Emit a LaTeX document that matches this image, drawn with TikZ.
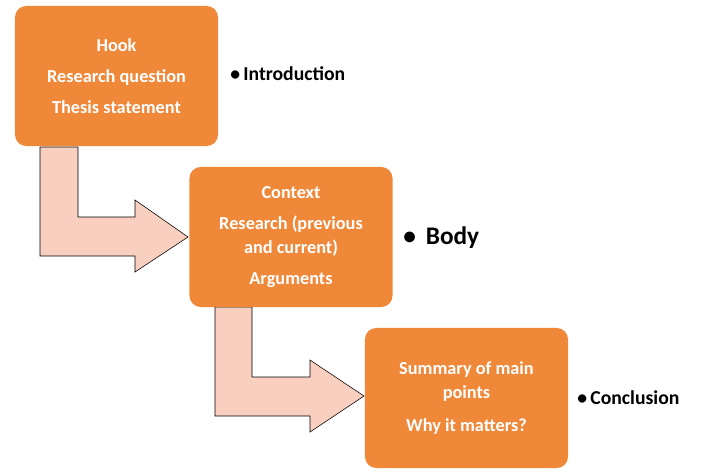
\documentclass[tikz,border=0pt]{standalone}
\usepackage{fontspec}
\setmainfont{Carlito}
\usetikzlibrary{calc}
\definecolor{boxorange}{HTML}{F0883A}
\definecolor{arrowpink}{HTML}{F9CFC0}
\begin{document}
\begin{tikzpicture}[x=0.025cm,y=-0.025cm]
		% Define styles
		\tikzstyle{stage box}=[rounded corners=8pt,fill=boxorange,text=white,font=\fontsize{13}{22}\selectfont\bfseries,align=center,minimum width=5.075cm,minimum height=3.5cm,inner sep=0pt]
		\tikzstyle{part label}=[anchor=west,font=\fontsize{14}{16}\selectfont\bfseries,inner sep=0pt]
		\tikzstyle{flow arrow}=[fill=arrowpink]
		\useasboundingbox (0,0) rectangle (720,474);
		
		% Bent arrows
		\draw[flow arrow] (40,147) -- (78,147) -- (78,217) -- (135,217) -- (135,200) -- (188,237) -- (135,272) -- (135,256) -- (40,256) -- cycle;
		\draw[flow arrow] (215,307) -- (252,307) -- (252,377) -- (310,377) -- (310,360) -- (364,396) -- (310,432) -- (310,416) -- (215,416) -- cycle;
		
		% Boxes
		\node[stage box] (intro) at (116.5,76) {Hook\\Research question\\Thesis statement};
		\node[stage box,font=\fontsize{13}{17}\selectfont\bfseries] (body) at (291,237) {Context\\[5pt]Research (previous\\and current)\\[5pt]Arguments};
		\node[stage box,font=\fontsize{13}{17}\selectfont\bfseries] (concl) at (466.5,398) {Summary of main\\points\\[6pt]Why it matters?};
		
		% Labels
		\node[part label] (lintro) at (230,74) {\textbullet\,Introduction};
		\node[part label,font=\fontsize{18}{20}\selectfont\bfseries] (lbody) at (403,238) {\textbullet\, Body};
		\node[part label] (lconcl) at (577,398) {\textbullet\,Conclusion};
\end{tikzpicture}
\end{document}
